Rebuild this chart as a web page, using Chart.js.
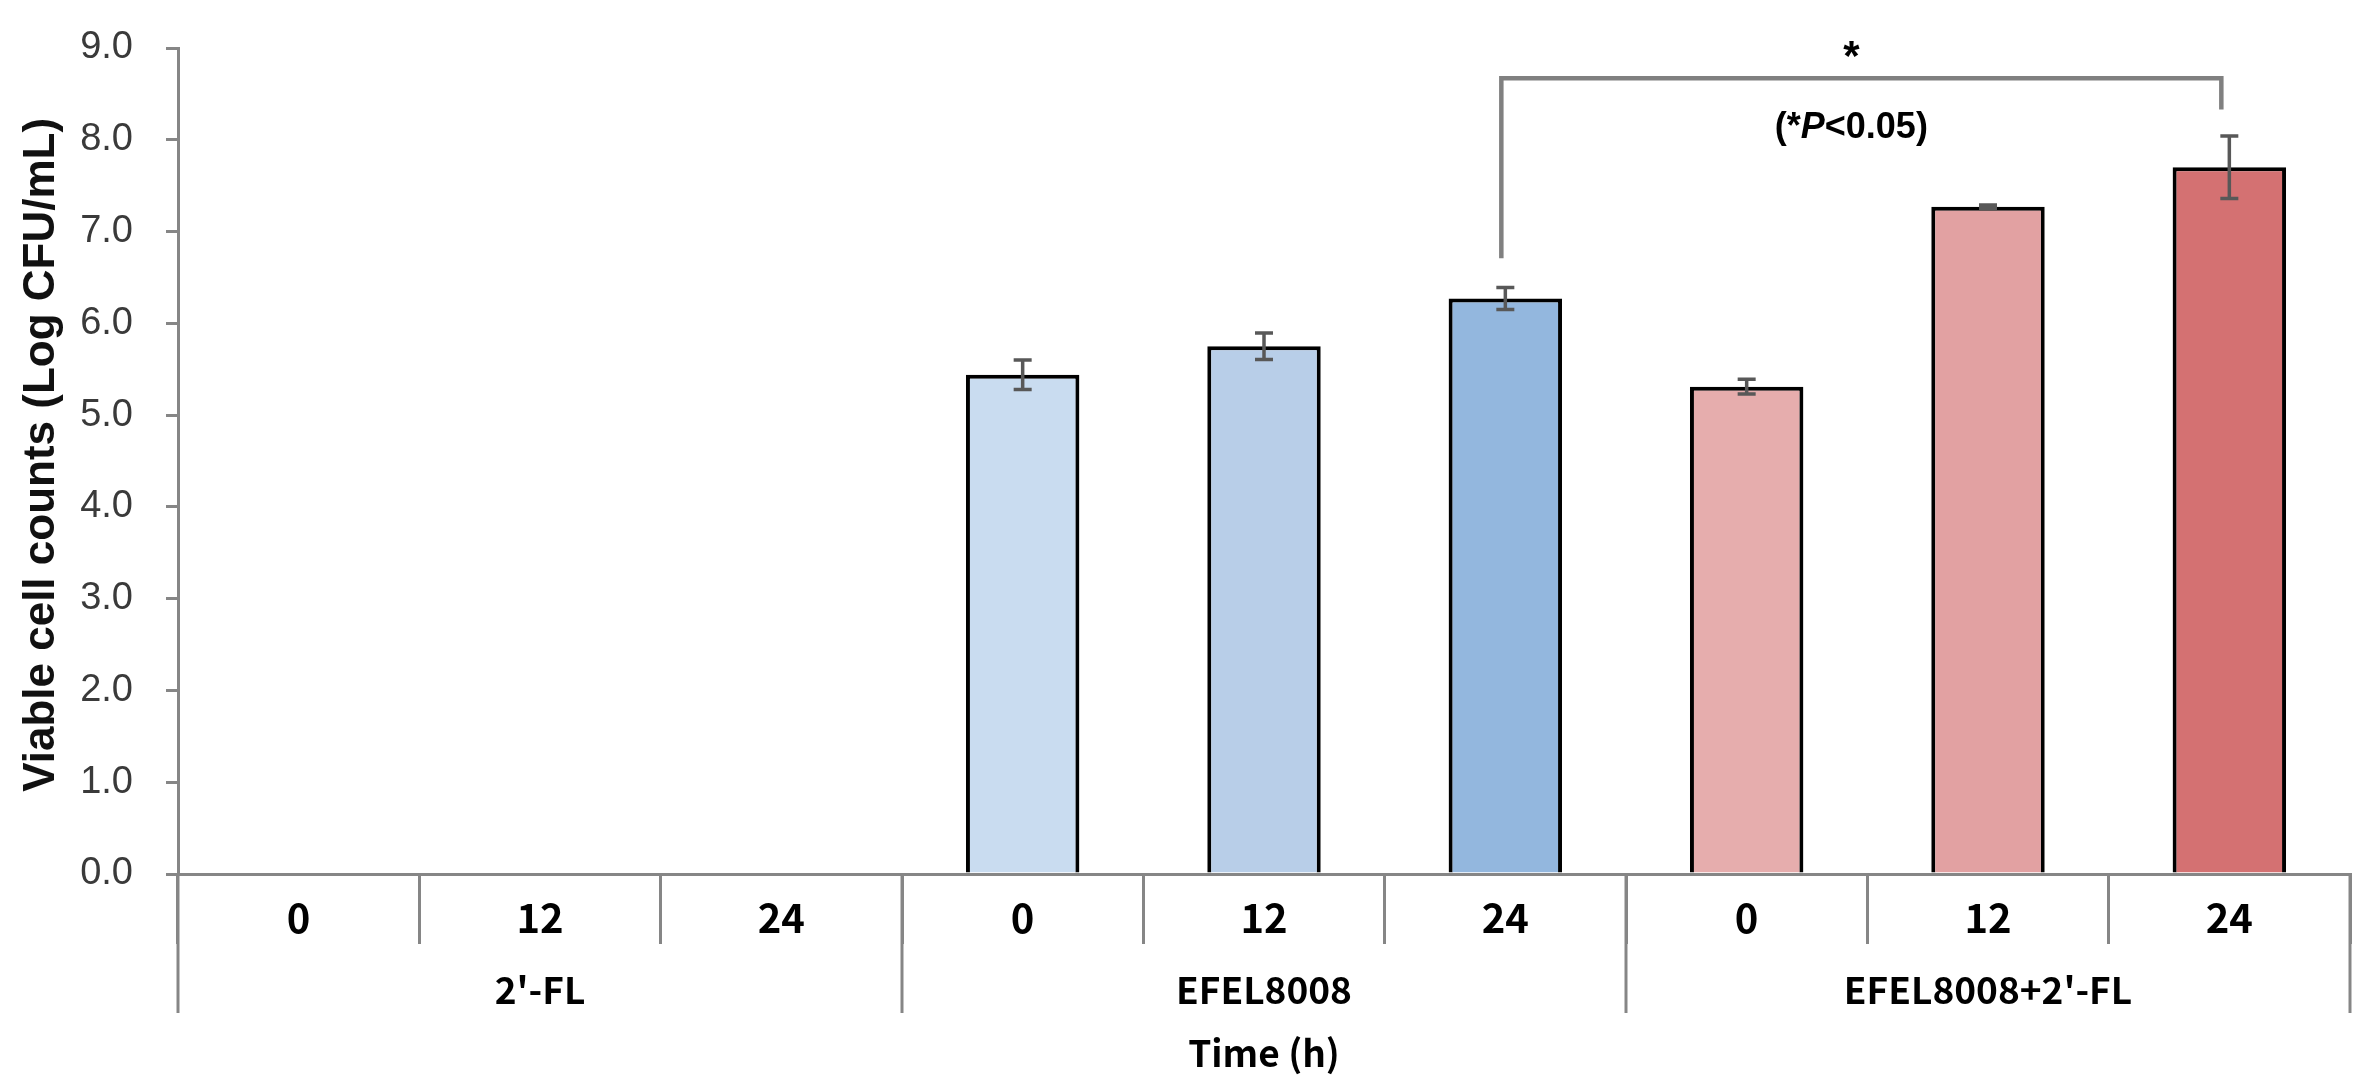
<!DOCTYPE html>
<html>
<head>
<meta charset="utf-8">
<script src="https://cdn.jsdelivr.net/npm/chart.js@4.4.1/dist/chart.umd.min.js"></script>
<style>
  html, body { margin: 0; padding: 0; background: #fff; }
</style>
</head>
<body>
<canvas id="myChart" width="2362" height="1092"></canvas>
<script>
// data
const groups = ["2'-FL", 'EFEL8008', "EFEL8008+2'-FL"];
const times = ['0', '12', '24'];
const flMean = [0, 0, 0];
const flSd = [0, 0, 0];
const efelMean = [5.44, 5.75, 6.27];
const efelSd = [0.16, 0.145, 0.12];
const comboMean = [5.31, 7.27, 7.70];
const comboSd = [0.08, 0.02, 0.34];
const yTicks = [0, 1, 2, 3, 4, 5, 6, 7, 8, 9];

// significance bracket between EFEL8008 24 h and EFEL8008+2'-FL 24 h
const sigPair = [5, 8];
const sigTop = 8.67;
const sigLegEnds = [6.71, 8.33];
const sigStar = 8.95;
const sigNote = 8.13;

const labels = groups.flatMap(() => times);
const means = flMean.concat(efelMean, comboMean);
const sds = flSd.concat(efelSd, comboSd);
const barColors = ['#ffffff', '#ffffff', '#ffffff',
  '#c9dcf0', '#b8cee8', '#93b7de',
  '#e6adad', '#e2a1a2', '#d47172'];

const axisGrey = '#868686';
const tickFont = { family: 'Noto Sans CJK KR', size: 40, weight: 'bold' };
const groupFont = 'bold 37px "Noto Sans CJK KR"';

const errorBars = {
  id: 'errorBars',
  afterDatasetsDraw(chart) {
    const { ctx } = chart;
    const y = chart.scales.y;
    const bars = chart.getDatasetMeta(0).data;
    ctx.save();
    ctx.strokeStyle = '#585858';
    ctx.lineWidth = 3.5;
    bars.forEach((bar, i) => {
      if (!means[i]) return;
      const top = y.getPixelForValue(means[i] + sds[i]);
      const bot = y.getPixelForValue(means[i] - sds[i]);
      ctx.beginPath();
      ctx.moveTo(bar.x, top); ctx.lineTo(bar.x, bot);
      ctx.moveTo(bar.x - 9, top); ctx.lineTo(bar.x + 9, top);
      ctx.moveTo(bar.x - 9, bot); ctx.lineTo(bar.x + 9, bot);
      ctx.stroke();
    });
    ctx.restore();
  }
};

const groupAxis = {
  id: 'groupAxis',
  afterDraw(chart) {
    const { ctx } = chart;
    const x = chart.scales.x;
    const half = (x.getPixelForValue(1) - x.getPixelForValue(0)) / 2;
    ctx.save();
    ctx.strokeStyle = axisGrey;
    ctx.lineWidth = 3;
    for (let g = 0; g <= groups.length; g++) {
      const px = x.getPixelForValue(g * times.length) - half;
      ctx.beginPath();
      ctx.moveTo(px, x.top);
      ctx.lineTo(px, x.top + 139);
      ctx.stroke();
    }
    ctx.fillStyle = '#000';
    ctx.font = groupFont;
    ctx.textAlign = 'center';
    ctx.textBaseline = 'middle';
    groups.forEach((g, i) => {
      ctx.fillText(g, x.getPixelForValue(i * times.length + 1), x.top + 116);
    });
    ctx.restore();
  }
};

const sigBracket = {
  id: 'sigBracket',
  afterDraw(chart) {
    const { ctx } = chart;
    const x = chart.scales.x, y = chart.scales.y;
    const x1 = x.getPixelForValue(sigPair[0]) - 4;
    const x2 = x.getPixelForValue(sigPair[1]) - 8;
    const yt = y.getPixelForValue(sigTop);
    ctx.save();
    ctx.strokeStyle = '#808080';
    ctx.lineWidth = 4.5;
    ctx.beginPath();
    ctx.moveTo(x1, y.getPixelForValue(sigLegEnds[0]));
    ctx.lineTo(x1, yt);
    ctx.lineTo(x2, yt);
    ctx.lineTo(x2, y.getPixelForValue(sigLegEnds[1]));
    ctx.stroke();

    const mid = (x1 + x2) / 2 - 10;
    ctx.fillStyle = '#000';
    ctx.textBaseline = 'middle';
    ctx.textAlign = 'center';
    ctx.font = 'bold 42px "Liberation Sans"';
    ctx.fillText('*', mid, y.getPixelForValue(sigStar) + 6);

    // (*P<0.05) with italic P
    const parts = [['(*', 'bold 36px "Liberation Sans"'],
                   ['P', 'italic bold 36px "Liberation Sans"'],
                   ['<0.05)', 'bold 36px "Liberation Sans"']];
    let total = 0;
    parts.forEach(p => { ctx.font = p[1]; total += ctx.measureText(p[0]).width; });
    let cx = mid - total / 2;
    ctx.textAlign = 'left';
    const ny = y.getPixelForValue(sigNote);
    parts.forEach(p => {
      ctx.font = p[1];
      ctx.fillText(p[0], cx, ny);
      cx += ctx.measureText(p[0]).width;
    });
    ctx.restore();
  }
};

new Chart(document.getElementById('myChart'), {
  type: 'bar',
  data: {
    labels: labels,
    datasets: [{
      data: means,
      backgroundColor: barColors,
      borderColor: '#000000',
      borderWidth: (c) => (c.raw > 0 ? 4 : 0),
      categoryPercentage: 1,
      barPercentage: 0.47
    }]
  },
  options: {
    responsive: false,
    devicePixelRatio: 1,
    animation: false,
    layout: { padding: { top: 48, right: 12, left: 0, bottom: 0 } },
    plugins: { legend: { display: false }, tooltip: { enabled: false } },
    scales: {
      x: {
        offset: true,
        afterFit: (s) => { s.height = 218; },
        grid: {
          offset: true,
          drawOnChartArea: false,
          tickLength: 70,
          color: axisGrey,
          lineWidth: 3
        },
        border: { display: true, color: axisGrey, width: 3 },
        ticks: { color: '#000', font: tickFont, padding: -50, maxRotation: 0, autoSkip: false },
        title: {
          display: true,
          text: 'Time (h)',
          color: '#000',
          font: { family: 'Noto Sans CJK KR', size: 37, weight: 'bold' },
          padding: { top: 0, bottom: 17 }
        }
      },
      y: {
        min: 0,
        max: 9,
        afterFit: (s) => { s.width = 178; s.paddingTop = 0; },
        afterBuildTicks: (s) => { s.ticks = yTicks.map(v => ({ value: v })); },
        grid: {
          drawOnChartArea: false,
          drawTicks: true,
          tickLength: 12,
          color: axisGrey,
          lineWidth: 3
        },
        border: { display: true, color: axisGrey, width: 3 },
        ticks: {
          color: '#3a3a3a',
          font: { family: 'Liberation Sans', size: 38 },
          padding: 33,
          callback: (v) => Number(v).toFixed(1)
        },
        title: {
          display: true,
          text: '\u00A0Viable cell counts (Log CFU/mL)',
          color: '#111',
          font: { family: 'Liberation Sans', size: 44, weight: 'bold' },
          padding: { top: 15, bottom: 0 }
        }
      }
    }
  },
  plugins: [errorBars, groupAxis, sigBracket]
});
</script>
</body>
</html>
